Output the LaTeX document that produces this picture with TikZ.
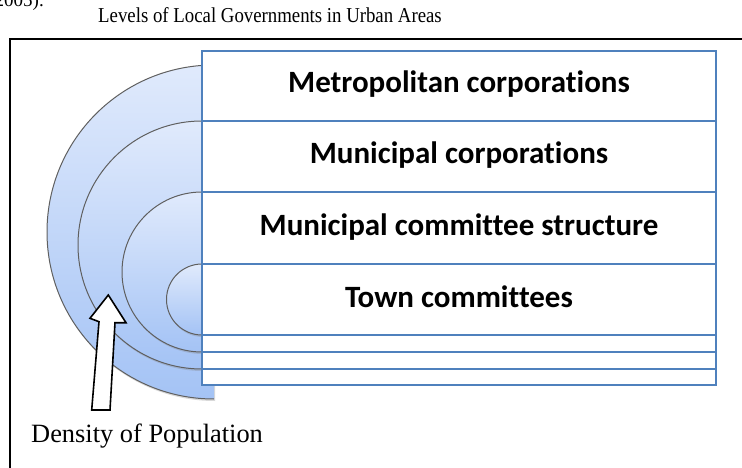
\documentclass[tikz,border=0pt]{standalone}
\usepackage{fontspec}
\setmainfont{Liberation Serif}
\newfontfamily\boxfont[Ligatures=NoCommon]{Carlito}
\usetikzlibrary{shadows}
\definecolor{rowblue}{RGB}{79,129,189}
\definecolor{disctop}{RGB}{224,234,252}
\definecolor{discbot}{RGB}{164,195,245}
\definecolor{arcgray}{RGB}{95,95,95}
\begin{document}
\begin{tikzpicture}[x=1pt,y=-1pt,
  disc/.style={top color=disctop,bottom color=discbot,
    drop shadow={opacity=0.3,shadow xshift=1pt,shadow yshift=-2pt}},
  rim/.style={draw=arcgray,line width=1pt},
  row/.style={draw=rowblue,fill=white,line width=1.5pt},
  rowtext/.style={font=\boxfont\bfseries\fontsize{31}{36}\selectfont,anchor=base,inner sep=0pt},
  serif/.style={inner sep=0pt},
  blockarrow/.style={draw=black,fill=white,line width=1.6pt,line join=miter}
]
\useasboundingbox (0,0) rectangle (742,468);

% clipped text from the page above
\node[serif,anchor=base east,font=\fontsize{19}{22}\selectfont] (prev) at (44,7) {2005).};

% title
\node[serif,anchor=base,font=\fontsize{18.8}{22}\selectfont] (title) at (270,23)
  {\scalebox{1}[1.13]{Levels of Local Governments in Urban Areas}};

% frame
\draw[line width=1.3pt] (10,490) -- (10,39) -- (760,39);

% half discs
\path[disc] (214,65) arc[start angle=90,end angle=270,radius=167pt] -- cycle;
\draw[rim] (214,65) arc[start angle=90,end angle=270,radius=167pt];
\path[disc] (202,121) arc[start angle=90,end angle=270,radius=124pt] -- cycle;
\draw[rim] (202,121) arc[start angle=90,end angle=270,radius=124pt];
\path[disc] (202,192) arc[start angle=90,end angle=270,radius=80pt] -- cycle;
\draw[rim] (202,192) arc[start angle=90,end angle=270,radius=80pt];
\path[disc] (202,264) arc[start angle=90,end angle=270,radius=35.5pt] -- cycle;
\draw[rim] (202,264) arc[start angle=90,end angle=270,radius=35.5pt];

% stacked rectangles
\draw[row] (202,51) rectangle (716,385);
\draw[row] (202,121) rectangle (716,369);
\draw[row] (202,192) rectangle (716,352);
\draw[row] (202,264) rectangle (716,335);

\node[rowtext] (metro) at (459,93) {Metropolitan corporations};
\node[rowtext] (mcorp) at (459,164) {Municipal corporations};
\node[rowtext] (mcomm) at (459,235) {Municipal committee structure};
\node[rowtext] (town) at (459,307) {Town committees};

% block arrow
\draw[blockarrow] (108.3,295) -- (126,322.7) -- (115,322.7) -- (110,410)
  -- (91.7,410) -- (99,321.7) -- (90,318.3) -- cycle;

\node[serif,anchor=base west,font=\fontsize{26.4}{30}\selectfont] (density) at (31,442)
  {Density of Population};
\end{tikzpicture}
\end{document}
